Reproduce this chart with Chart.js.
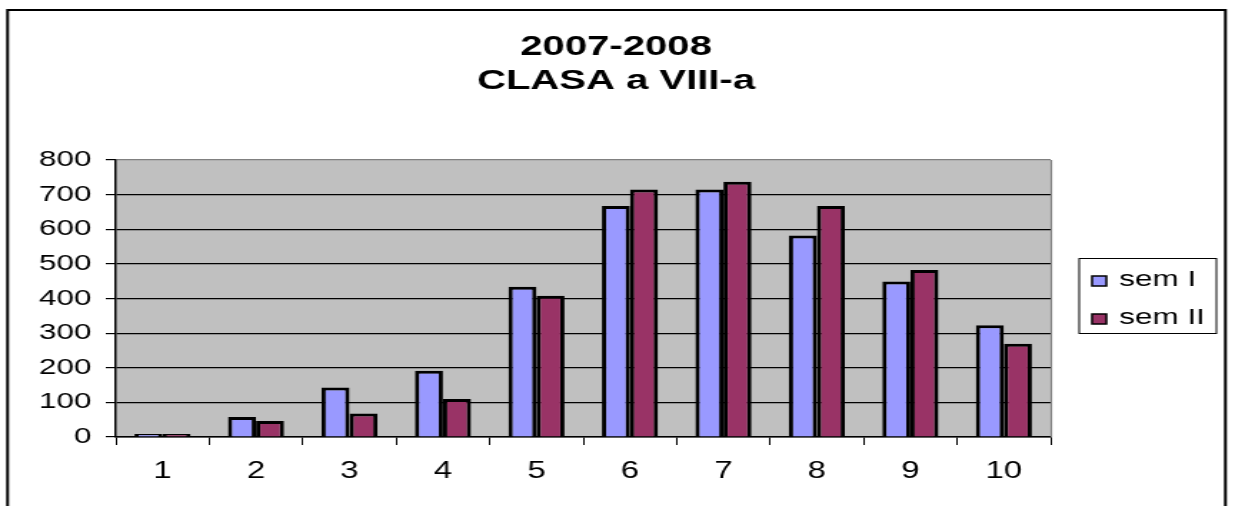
<!DOCTYPE html>
<html>
<head>
<meta charset="utf-8">
<script src="https://cdn.jsdelivr.net/npm/chart.js@4/dist/chart.umd.min.js"></script>
<style>
  html, body { margin: 0; padding: 0; background: #fff; overflow: hidden; }
  #c { display: block; transform: scaleX(1.4294); transform-origin: 0 0; }
</style>
</head>
<body>
<canvas id="c" width="864" height="506"></canvas>
<script>
const categories = ['1', '2', '3', '4', '5', '6', '7', '8', '9', '10'];
const semI  = [9, 58, 143, 191, 434, 667, 715, 582, 449, 323];
const semII = [9, 46, 68, 110, 408, 715, 737, 667, 482, 269];
const seriesNames = ['sem I', 'sem II'];
const titleLines = ['2007-2008', 'CLASA a VIII-a'];
const yTicks = [0, 100, 200, 300, 400, 500, 600, 700, 800];

const FONT = "'Liberation Sans', Arial, sans-serif";

const decor = {
  id: 'decor',
  beforeDraw(chart) {
    const { ctx, chartArea: a } = chart;
    ctx.save();
    ctx.fillStyle = '#fff';
    ctx.fillRect(0, 0, chart.width, chart.height);
    ctx.fillStyle = '#C0C0C0';
    ctx.fillRect(a.left, a.top, a.right - a.left, a.bottom - a.top);
    ctx.restore();
  },
  afterDraw(chart) {
    const { ctx, chartArea: a } = chart;
    ctx.save();
    ctx.strokeStyle = '#808080';
    ctx.lineWidth = 1.2;
    ctx.beginPath();
    ctx.moveTo(a.right + 0.5, a.top);
    ctx.lineTo(a.right + 0.5, a.bottom);
    ctx.stroke();
    ctx.strokeStyle = '#000';
    ctx.lineWidth = 2;
    ctx.strokeRect(5.3, 10, 852, 520);
    ctx.fillStyle = '#000';
    ctx.font = 'bold 28px ' + FONT;
    ctx.textAlign = 'center';
    ctx.textBaseline = 'alphabetic';
    ctx.fillText(titleLines[0], 431, 55);
    ctx.fillText(titleLines[1], 431, 89);
    ctx.fillStyle = '#fff';
    ctx.fillRect(755, 258.5, 96, 75);
    ctx.strokeStyle = '#000';
    ctx.lineWidth = 1;
    ctx.strokeRect(755, 258.5, 96, 75);
    ctx.font = '22px ' + FONT;
    ctx.textAlign = 'left';
    const ys = [286, 324];
    chart.data.datasets.forEach((ds, i) => {
      ctx.fillStyle = ds.backgroundColor;
      ctx.fillRect(764, ys[i] - 10, 10, 10);
      ctx.strokeStyle = '#000';
      ctx.lineWidth = 1.5;
      ctx.strokeRect(764, ys[i] - 10, 10, 10);
      ctx.fillStyle = '#000';
      ctx.fillText(ds.label, 783, ys[i]);
    });
    ctx.restore();
  }
};

new Chart(document.getElementById('c'), {
  type: 'bar',
  data: {
    labels: categories,
    datasets: [
      { label: seriesNames[0], data: semI, backgroundColor: '#9999FF', borderColor: '#000', borderWidth: 3 },
      { label: seriesNames[1], data: semII, backgroundColor: '#993366', borderColor: '#000', borderWidth: 3 }
    ]
  },
  options: {
    responsive: false,
    animation: false,
    devicePixelRatio: 1,
    layout: { padding: { top: 160, right: 129, bottom: 0, left: 0 } },
    datasets: { bar: { categoryPercentage: 0.6, barPercentage: 1.0 } },
    plugins: {
      legend: { display: false },
      title: { display: false },
      tooltip: { enabled: false }
    },
    scales: {
      x: {
        afterFit(s) { s.height = 69; },
        grid: { drawOnChartArea: false, drawTicks: true, tickLength: 8, tickColor: '#000', offset: true },
        border: { color: '#000', width: 1.5 },
        ticks: { color: '#000', font: { family: FONT, size: 23 }, padding: 13, maxRotation: 0 }
      },
      y: {
        min: 0, max: 800,
        afterFit(s) { s.width = 81; },
        afterBuildTicks(s) { s.ticks = yTicks.map(v => ({ value: v })); },
        grid: {
          color: (c) => (c.tick && c.tick.value === 800 ? '#808080' : '#000'),
          lineWidth: 1.2,
          tickLength: 7,
          tickColor: '#000'
        },
        border: { color: '#000', width: 1.5 },
        ticks: { color: '#000', font: { family: FONT, size: 22 }, padding: 10 }
      }
    }
  },
  plugins: [decor]
});
</script>
</body>
</html>
